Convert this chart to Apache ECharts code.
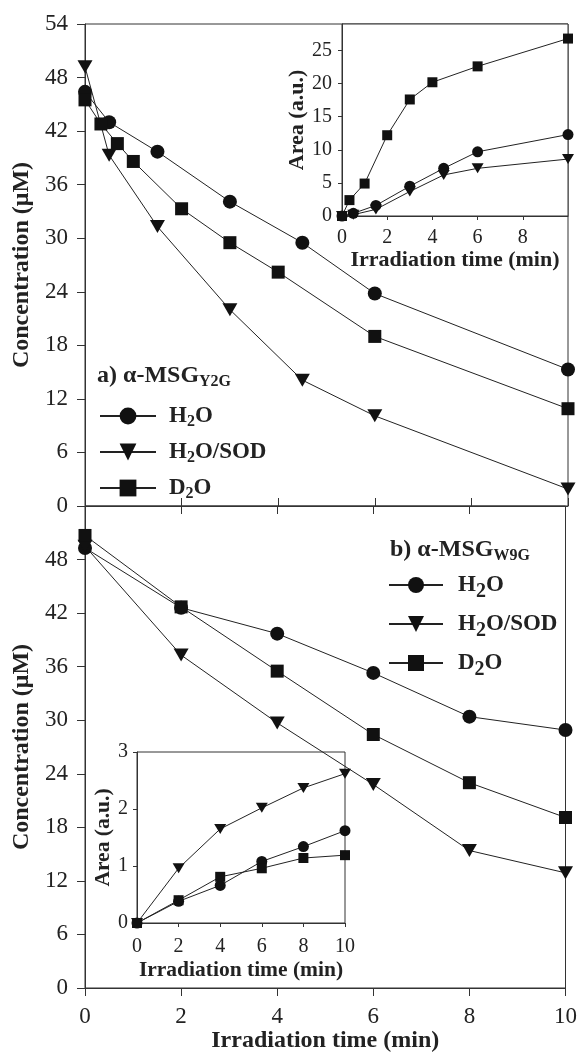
<!DOCTYPE html>
<html>
<head>
<meta charset="utf-8">
<script src="https://cdn.jsdelivr.net/npm/echarts@6/dist/echarts.min.js"></script>
<style>
html, body { margin: 0; padding: 0; background: #fff; }
#chart { width: 580px; height: 1057px; }
</style>
</head>
<body>
<div id="chart"></div>
<script>
// panel a) alpha-MSG Y2G, concentration vs time
const aTimeH2O = [0, 0.5, 1.5, 3, 4.5, 6, 10]
const aH2O = [46.4, 43.0, 39.7, 34.1, 29.5, 23.8, 15.3]
const aTimeSOD = [0, 0.5, 1.5, 3, 4.5, 6, 10]
const aSOD = [49.2, 39.3, 31.3, 22.0, 14.1, 10.1, 1.9]
const aTimeD2O = [0, 0.33, 0.67, 1, 2, 3, 4, 6, 10]
const aD2O = [45.5, 42.8, 40.6, 38.6, 33.3, 29.5, 26.2, 19.0, 10.9]

// panel a) inset, area
const aInTimeH2O = [0, 0.5, 1.5, 3, 4.5, 6, 10]
const aInH2O = [0, 0.4, 1.6, 4.5, 7.2, 9.7, 12.3]
const aInTimeSOD = [0, 0.5, 1.5, 3, 4.5, 6, 10]
const aInSOD = [0, 0.2, 1.0, 3.7, 6.2, 7.2, 8.6]
const aInTimeD2O = [0, 0.33, 1, 2, 3, 4, 6, 10]
const aInD2O = [0, 2.4, 4.9, 12.2, 17.6, 20.2, 22.6, 26.8]

// panel b) alpha-MSG W9G
const bTime = [0, 2, 4, 6, 8, 10]
const bH2O = [49.3, 42.6, 39.7, 35.3, 30.4, 28.9]
const bSOD = [49.5, 37.3, 29.7, 22.8, 15.4, 12.9]
const bD2O = [50.7, 42.7, 35.5, 28.4, 23.0, 19.1]

// panel b) inset
const bInH2O = [0, 0.38, 0.66, 1.08, 1.34, 1.62]
const bInSOD = [0, 0.96, 1.65, 2.02, 2.37, 2.62]
const bInD2O = [0, 0.40, 0.81, 0.96, 1.14, 1.19]

const names = ['H2O', 'H2O/SOD', 'D2O']

const FONT = 'Liberation Serif, Times New Roman, serif'
const INK = '#222'
const AXIS = '#333'

const marks = {
  'H2O': { symbol: 'circle', size: 14, rotate: 0 },
  'H2O/SOD': { symbol: 'triangle', size: [15, 13], rotate: 180 },
  'D2O': { symbol: 'rect', size: 13, rotate: 0 }
}

function pairs(xs, ys) {
  return xs.map((x, i) => [x, ys[i]])
}

function line(name, idx, xs, ys, small) {
  const m = marks[name]
  let size = m.size
  if (small) size = Array.isArray(size) ? size.map(v => v - 3) : size - 3
  return {
    name: name,
    type: 'line',
    xAxisIndex: idx,
    yAxisIndex: idx,
    data: pairs(xs, ys),
    symbol: m.symbol,
    symbolSize: size,
    symbolRotate: m.rotate,
    showAllSymbol: true,
    itemStyle: { color: '#111' },
    lineStyle: { color: INK, width: 1 },
    emphasis: { disabled: true }
  }
}

function axisBase(extra) {
  return Object.assign({
    type: 'value',
    splitLine: { show: false },
    axisLine: { show: true, lineStyle: { color: AXIS, width: 1 } },
    axisTick: { show: true, lineStyle: { color: AXIS } }
  }, extra)
}

function lbl(size, margin, more) {
  return Object.assign({ fontFamily: FONT, fontSize: size, color: INK, margin: margin }, more)
}

function nameStyle(size) {
  return { fontFamily: FONT, fontSize: size, fontWeight: 'bold', color: INK }
}

const subTop = name => name.replace('2', '{s|2}')

function titleStyle() {
  return {
    fontFamily: FONT, fontSize: 24, fontWeight: 'bold', color: INK, lineHeight: 28,
    rich: { s: { fontFamily: FONT, fontSize: 16, fontWeight: 'bold', color: INK, lineHeight: 28, padding: [12, 0, 0, 0] } }
  }
}

const option = {
  animation: false,
  backgroundColor: '#fff',
  title: [
    { text: 'a) α-MSG{s|Y2G}', left: 97, top: 362, padding: 0, textStyle: titleStyle() },
    { text: 'b) α-MSG{s|W9G}', left: 390, top: 536, padding: 0, textStyle: titleStyle() }
  ],
  legend: [
    {
      data: names,
      orient: 'vertical',
      left: 99,
      top: 402,
      padding: 0,
      itemWidth: 56,
      itemHeight: 21,
      itemGap: 8,
      selectedMode: false,
      formatter: subTop,
      textStyle: {
        fontFamily: FONT, fontSize: 23, fontWeight: 'bold', color: INK, lineHeight: 26, padding: [0, 0, 0, 8],
        rich: { s: { fontFamily: FONT, fontSize: 16, fontWeight: 'bold', color: INK, lineHeight: 26, padding: [12, 0, 0, 0] } }
      }
    },
    {
      data: names,
      orient: 'vertical',
      left: 388,
      top: 568,
      padding: 0,
      itemWidth: 54,
      itemHeight: 20,
      itemGap: 5,
      selectedMode: false,
      formatter: subTop,
      textStyle: {
        fontFamily: FONT, fontSize: 23, fontWeight: 'bold', color: INK, lineHeight: 26, padding: [0, 0, 0, 10],
        rich: { s: { fontFamily: FONT, fontSize: 20, fontWeight: 'bold', color: INK, lineHeight: 26, padding: [14, 0, 0, 0] } }
      }
    }
  ],
  grid: [
    { left: 85, top: 24, width: 483, height: 482, show: true, borderColor: AXIS, borderWidth: 1 },
    { left: 85, top: 506, width: 483, height: 482, show: true, borderColor: AXIS, borderWidth: 1 },
    { left: 342, top: 24, width: 226, height: 192, show: true, borderColor: AXIS, borderWidth: 1, backgroundColor: '#fff' },
    { left: 137, top: 752, width: 208, height: 171, show: true, borderColor: AXIS, borderWidth: 1 }
  ],
  xAxis: [
    axisBase({
      gridIndex: 0, min: 0, max: 10, interval: 2,
      axisLabel: { show: false },
      axisTick: { inside: true, length: 8, lineStyle: { color: AXIS } }
    }),
    axisBase({
      gridIndex: 1, min: 0, max: 10, interval: 2,
      axisLabel: lbl(23, 17),
      axisTick: { inside: false, length: 8, lineStyle: { color: AXIS } },
      name: 'Irradiation time (min)',
      nameLocation: 'middle',
      nameGap: 40,
      nameTextStyle: nameStyle(24)
    }),
    axisBase({
      gridIndex: 2, min: 0, max: 10, interval: 2,
      axisLabel: lbl(20, 12, { showMaxLabel: false }),
      axisTick: { inside: false, length: 4, lineStyle: { color: AXIS } },
      name: 'Irradiation time (min)',
      nameLocation: 'middle',
      nameGap: 33,
      nameTextStyle: nameStyle(22)
    }),
    axisBase({
      gridIndex: 3, min: 0, max: 10, interval: 2,
      axisLabel: lbl(20, 14),
      axisTick: { inside: false, length: 4, lineStyle: { color: AXIS } },
      name: 'Irradiation time (min)',
      nameLocation: 'middle',
      nameGap: 36,
      nameTextStyle: nameStyle(21.5)
    }),
    axisBase({
      gridIndex: 1, min: 0, max: 10, interval: 2, position: 'top',
      axisLabel: { show: false },
      axisTick: { inside: true, length: 8, lineStyle: { color: AXIS } }
    })
  ],
  yAxis: [
    axisBase({
      gridIndex: 0, min: 0, max: 54, interval: 6,
      axisLabel: lbl(23, 17),
      axisTick: { inside: false, length: 8, lineStyle: { color: AXIS } },
      name: 'Concentration (μM)',
      nameLocation: 'middle',
      nameGap: 51,
      nameTextStyle: nameStyle(24)
    }),
    axisBase({
      gridIndex: 1, min: 0, max: 54, interval: 6,
      axisLabel: lbl(23, 17, { showMaxLabel: false }),
      axisTick: { inside: false, length: 8, lineStyle: { color: AXIS } },
      name: 'Concentration (μM)',
      nameLocation: 'middle',
      nameGap: 51,
      nameTextStyle: nameStyle(24)
    }),
    axisBase({
      gridIndex: 2, min: 0, max: 29, interval: 5,
      axisLabel: lbl(20, 10, { showMaxLabel: false }),
      axisTick: { inside: false, length: 4, lineStyle: { color: AXIS } },
      name: 'Area (a.u.)',
      nameLocation: 'middle',
      nameGap: 33,
      nameTextStyle: nameStyle(22)
    }),
    axisBase({
      gridIndex: 3, min: 0, max: 3, interval: 1,
      axisLabel: lbl(20, 9),
      axisTick: { inside: false, length: 4, lineStyle: { color: AXIS } },
      name: 'Area (a.u.)',
      nameLocation: 'middle',
      nameGap: 23,
      nameTextStyle: nameStyle(21.5)
    })
  ],
  series: [
    line('H2O', 0, aTimeH2O, aH2O),
    line('H2O/SOD', 0, aTimeSOD, aSOD),
    line('D2O', 0, aTimeD2O, aD2O),
    line('H2O', 1, bTime, bH2O),
    line('H2O/SOD', 1, bTime, bSOD),
    line('D2O', 1, bTime, bD2O),
    line('H2O', 2, aInTimeH2O, aInH2O, true),
    line('H2O/SOD', 2, aInTimeSOD, aInSOD, true),
    line('D2O', 2, aInTimeD2O, aInD2O, true),
    line('H2O', 3, bTime, bInH2O, true),
    line('H2O/SOD', 3, bTime, bInSOD, true),
    line('D2O', 3, bTime, bInD2O, true)
  ]
}

const chart = echarts.init(document.getElementById('chart'))
chart.setOption(option)
</script>
</body>
</html>
